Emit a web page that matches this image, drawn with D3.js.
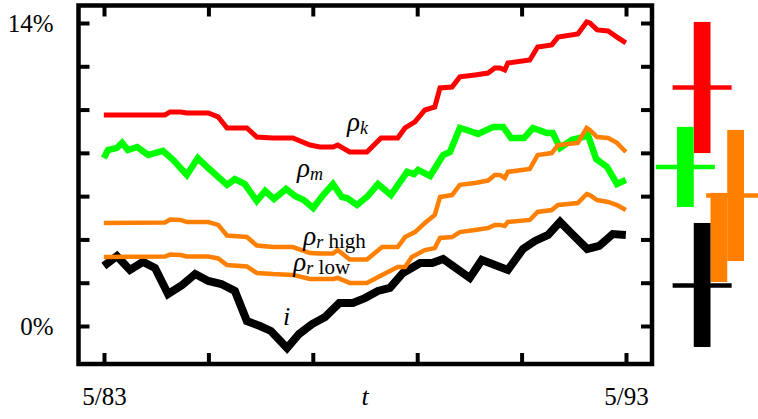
<!DOCTYPE html>
<html>
<head>
<meta charset="utf-8">
<script src="https://cdn.jsdelivr.net/npm/d3@7"></script>
<style>
  body { margin: 0; background: #fff; }
  text { font-family: "Liberation Serif", "DejaVu Serif", serif; }
</style>
</head>
<body>
<div id="chart"></div>
<script>
// series: [decimal year, percent]
var rhoK = [[1983.33, 9.75], [1984.50, 9.75], [1984.60, 9.89], [1984.80, 9.89], [1984.92, 9.84], [1985.33, 9.84],
  [1985.52, 9.66], [1985.69, 9.15], [1986.07, 9.15], [1986.26, 8.73], [1986.57, 8.69], [1986.95, 8.69],
  [1987.28, 8.36], [1987.47, 8.27], [1987.72, 8.27], [1987.81, 8.36], [1988.04, 8.04], [1988.37, 8.04],
  [1988.64, 8.69], [1988.96, 8.69], [1989.10, 9.15], [1989.29, 9.43], [1989.48, 9.98], [1989.67, 10.12],
  [1989.77, 11.0], [1990.00, 11.04], [1990.15, 11.51], [1990.44, 11.6], [1990.69, 11.69], [1990.82, 11.92],
  [1990.92, 11.92], [1991.01, 11.83], [1991.07, 12.15], [1991.49, 12.29], [1991.64, 12.89], [1991.91, 12.99],
  [1992.03, 13.35], [1992.41, 13.49], [1992.58, 14.05], [1992.64, 14.0], [1992.78, 13.68], [1992.99, 13.63],
  [1993.16, 13.35], [1993.33, 13.08]];

var rhoM = [[1983.33, 7.76], [1983.41, 8.13], [1983.58, 8.23], [1983.68, 8.46], [1983.79, 8.13], [1983.97, 8.27],
  [1984.18, 7.90], [1984.31, 7.99], [1984.46, 8.09], [1984.66, 7.67], [1984.92, 6.98], [1985.13, 7.76],
  [1985.33, 7.30], [1985.69, 6.52], [1985.84, 6.79], [1986.03, 6.56], [1986.26, 5.78], [1986.42, 6.24],
  [1986.59, 5.87], [1986.82, 6.33], [1986.99, 6.01], [1987.16, 5.82], [1987.34, 5.45], [1987.53, 6.05],
  [1987.72, 6.56], [1987.89, 5.96], [1987.99, 5.91], [1988.18, 5.59], [1988.39, 6.01], [1988.58, 6.56],
  [1988.83, 6.05], [1989.14, 7.12], [1989.27, 7.02], [1989.35, 7.21], [1989.58, 6.93], [1989.83, 7.90],
  [1989.96, 8.04], [1990.15, 9.15], [1990.34, 9.01], [1990.50, 8.87], [1990.79, 9.20], [1990.98, 9.20],
  [1991.13, 8.69], [1991.38, 8.69], [1991.55, 9.15], [1991.82, 8.92], [1991.93, 8.92], [1992.07, 8.23],
  [1992.30, 8.60], [1992.51, 8.73], [1992.59, 8.92], [1992.76, 7.72], [1992.97, 7.35], [1993.16, 6.56],
  [1993.33, 6.75]];

var rhoRHigh = [[1983.33, 4.76], [1984.50, 4.78], [1984.60, 4.92], [1984.80, 4.90], [1984.92, 4.80], [1985.33, 4.80],
  [1985.52, 4.67], [1985.69, 4.18], [1986.07, 4.11], [1986.26, 3.72], [1986.57, 3.65], [1986.95, 3.65],
  [1987.28, 3.37], [1987.47, 3.35], [1987.72, 3.35], [1987.81, 3.51], [1988.04, 3.07], [1988.37, 3.07],
  [1988.66, 3.65], [1988.96, 3.65], [1989.10, 4.11], [1989.29, 4.34], [1989.48, 4.76], [1989.67, 5.13],
  [1989.77, 5.96], [1990.00, 6.05], [1990.15, 6.52], [1990.44, 6.61], [1990.69, 6.72], [1990.82, 6.98],
  [1990.92, 6.98], [1991.01, 6.84], [1991.07, 7.12], [1991.49, 7.26], [1991.64, 7.90], [1991.91, 7.99],
  [1992.03, 8.36], [1992.41, 8.46], [1992.58, 9.15], [1992.64, 9.06], [1992.78, 8.73], [1992.99, 8.69],
  [1993.16, 8.46], [1993.33, 8.04]];

var rhoRLow = [[1983.33, 3.19], [1984.50, 3.21], [1984.60, 3.30], [1984.80, 3.28], [1984.92, 3.21], [1985.33, 3.21],
  [1985.52, 3.12], [1985.69, 2.82], [1986.07, 2.75], [1986.26, 2.45], [1986.57, 2.40], [1986.95, 2.36],
  [1987.28, 2.17], [1987.47, 2.17], [1987.72, 2.17], [1987.81, 2.22], [1988.04, 1.99], [1988.37, 1.99],
  [1988.66, 2.36], [1988.96, 2.73], [1989.10, 2.73], [1989.23, 3.19], [1989.48, 3.51], [1989.67, 3.60],
  [1989.77, 4.07], [1990.00, 4.11], [1990.15, 4.34], [1990.44, 4.44], [1990.69, 4.53], [1990.82, 4.67],
  [1990.92, 4.67], [1991.01, 4.62], [1991.07, 4.81], [1991.49, 4.90], [1991.64, 5.27], [1991.91, 5.36],
  [1992.03, 5.59], [1992.41, 5.68], [1992.58, 6.10], [1992.64, 6.05], [1992.78, 5.82], [1992.99, 5.73],
  [1993.16, 5.59], [1993.33, 5.36]];

var rateI = [[1983.33, 2.77], [1983.58, 3.23], [1983.83, 2.59], [1984.08, 2.96], [1984.31, 2.68], [1984.56, 1.48],
  [1984.83, 1.89], [1985.08, 2.40], [1985.33, 2.08], [1985.58, 1.94], [1985.84, 1.62], [1986.07, 0.23],
  [1986.32, 0.0], [1986.53, -0.23], [1986.84, -1.02], [1987.07, -0.37], [1987.32, 0.09], [1987.57, 0.42],
  [1987.84, 1.06], [1988.10, 1.06], [1988.33, 1.29], [1988.58, 1.62], [1988.81, 1.76], [1989.06, 2.45],
  [1989.39, 2.91], [1989.62, 2.91], [1989.83, 3.10], [1990.34, 2.22], [1990.57, 3.05], [1991.07, 2.59],
  [1991.36, 3.56], [1991.59, 3.93], [1991.84, 4.21], [1992.07, 4.81], [1992.30, 4.25], [1992.59, 3.56],
  [1992.82, 3.70], [1993.08, 4.25], [1993.33, 4.21]];

var xTicks = [1983.333, 1985.333, 1987.333, 1989.333, 1991.333, 1993.333];
var xTickLabels = ["5/83", "", "", "", "", "5/93"];
var yTicks = [0, 2, 4, 6, 8, 10, 12, 14];
var yTickLabels = ["0%", "", "", "", "", "", "", "14%"];

// side panel: low / high of each series and a marked level
var rangeNames = ["rhoK", "rhoM", "rhoRLow", "rhoRHigh", "i"];
var rangeLow = [7.99, 5.50, 2.03, 3.00, -0.97];
var rangeHigh = [14.05, 9.20, 6.15, 9.06, 4.76];
var rangeMark = [11.02, 7.35, null, 6.03, 1.87];

var colors = { rhoK: "#ff0000", rhoM: "#00ff00", rhoRLow: "#ff8000", rhoRHigh: "#ff8000", i: "#000000" };
var widths = { rhoK: 5, rhoM: 6.5, rhoRLow: 4.5, rhoRHigh: 4.5, i: 8 };
var columns = { rhoM: 0, rhoK: 1, i: 1, rhoRLow: 2, rhoRHigh: 3 };

var W = 758, H = 419;
var frame = { left: 78.5, right: 652, top: 5.5, bottom: 364 };

var svg = d3.select("#chart")
  .append("svg")
  .attr("width", W)
  .attr("height", H);

var x = d3.scaleLinear().domain([1983.333, 1993.333]).range([104, 626]);
var y = d3.scaleLinear().domain([0, 14]).range([326, 23]);

// axes, ticks pointing inwards
function styleAxis(g) {
  g.select(".domain").remove();
  g.selectAll(".tick line").attr("stroke", "#000").attr("stroke-width", 4);
  g.selectAll(".tick text").attr("fill", "#000")
    .style("font-family", '"Liberation Serif", serif').style("font-size", "25px");
}

svg.append("g")
  .attr("transform", "translate(" + frame.left + ",0)")
  .call(d3.axisLeft(y).tickValues(yTicks).tickSize(-11).tickPadding(25)
    .tickFormat(function (d, i) { return yTickLabels[i]; }))
  .call(styleAxis);

svg.append("g")
  .attr("transform", "translate(" + frame.right + ",0)")
  .call(d3.axisRight(y).tickValues(yTicks).tickSize(-11).tickFormat(""))
  .call(styleAxis);

svg.append("g")
  .attr("transform", "translate(0," + frame.bottom + ")")
  .call(d3.axisBottom(x).tickValues(xTicks).tickSize(-11).tickPadding(23)
    .tickFormat(function (d, i) { return xTickLabels[i]; }))
  .call(styleAxis);

svg.append("g")
  .attr("transform", "translate(0," + frame.top + ")")
  .call(d3.axisTop(x).tickValues(xTicks).tickSize(-11).tickFormat(""))
  .call(styleAxis);

svg.append("rect")
  .attr("x", frame.left)
  .attr("y", frame.top)
  .attr("width", frame.right - frame.left)
  .attr("height", frame.bottom - frame.top)
  .attr("fill", "none")
  .attr("stroke", "#000")
  .attr("stroke-width", 4.5);

svg.append("text")
  .attr("x", (x.range()[0] + x.range()[1]) / 2)
  .attr("y", 405)
  .attr("text-anchor", "middle")
  .style("font-style", "italic")
  .style("font-size", "26px")
  .text("t");

// the lines
var series = [
  { name: "rhoK", values: rhoK },
  { name: "rhoM", values: rhoM },
  { name: "i", values: rateI },
  { name: "rhoRLow", values: rhoRLow },
  { name: "rhoRHigh", values: rhoRHigh }
];

var line = d3.line()
  .x(function (d) { return x(d[0]); })
  .y(function (d) { return y(d[1]); });

svg.selectAll("path.series")
  .data(series)
  .enter()
  .append("path")
  .attr("class", "series")
  .attr("d", function (d) { return line(d.values); })
  .attr("fill", "none")
  .attr("stroke", function (d) { return colors[d.name]; })
  .attr("stroke-width", function (d) { return widths[d.name]; });

// curve labels, anchored in data coordinates
var labels = [
  { at: [1987.99, 9.01], sub: "k", extra: "" },
  { at: [1987.03, 6.90], sub: "m", extra: "" },
  { at: [1987.15, 3.74], sub: "r", extra: " high" },
  { at: [1986.96, 2.55], sub: "r", extra: " low" }
];

labels.forEach(function (l) {
  var t = svg.append("text")
    .attr("x", x(l.at[0]))
    .attr("y", y(l.at[1]))
    .style("font-size", "27px");
  t.append("tspan").style("font-style", "italic").text("ρ");
  t.append("tspan").style("font-style", "italic").style("font-size", "18px").attr("dy", 3).text(l.sub);
  if (l.extra) t.append("tspan").style("font-size", "21px").text(l.extra);
});

svg.append("text")
  .attr("x", x(1986.76))
  .attr("y", y(0.05))
  .style("font-style", "italic")
  .style("font-size", "26px")
  .text("i");

// side panel: range bars with a marked level
var sx = d3.scaleLinear().domain([0, 4]).range([677, 744]);
var colW = sx(1) - sx(0);
var markHalf = 29.5;

var side = svg.append("g");
rangeNames.forEach(function (name, k) {
  var c = columns[name];
  side.append("rect")
    .attr("x", sx(c))
    .attr("y", y(rangeHigh[k]))
    .attr("width", colW)
    .attr("height", y(rangeLow[k]) - y(rangeHigh[k]))
    .attr("fill", colors[name]);
  if (rangeMark[k] !== null) {
    side.append("line")
      .attr("x1", sx(c) + colW / 2 - markHalf)
      .attr("x2", sx(c) + colW / 2 + markHalf)
      .attr("y1", y(rangeMark[k]))
      .attr("y2", y(rangeMark[k]))
      .attr("stroke", colors[name])
      .attr("stroke-width", 4.5);
  }
});
</script>
</body>
</html>
